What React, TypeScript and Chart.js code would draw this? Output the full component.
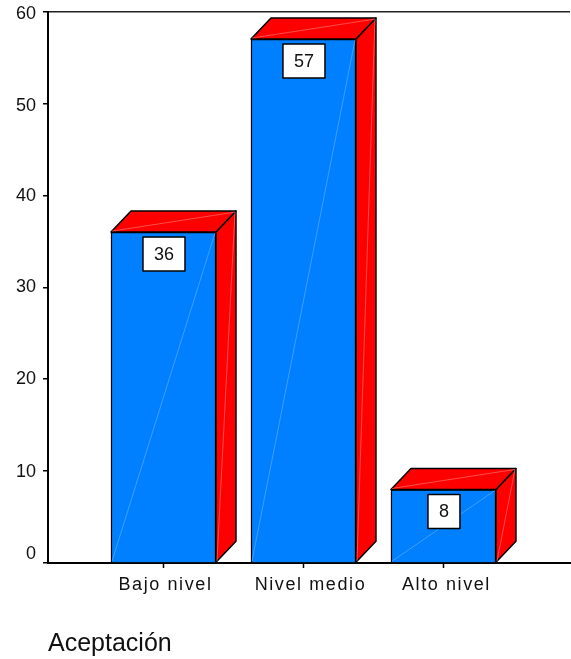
import { useEffect, useRef } from "react";
import { Chart, registerables } from "chart.js";

Chart.register(...registerables);

const categories = ["Bajo nivel", "Nivel medio", "Alto nivel"];
const values = [36, 57, 8];
const yTicks = [0, 10, 20, 30, 40, 50, 60];
const axisTitle = "Aceptación";

const FONT = "'Liberation Sans', Arial, sans-serif";
const DEPTH_X = 20;
const DEPTH_Y = 21;
const BLUE = "#0080ff";
const RED = "#ff0000";
// Label nudges: value axis from 0 up to 60, then the category labels.
const yLabelNudge = [-9, 1, 0, 0, 1, 3, 3];
const xLabelNudge = [2, 7, 3];

const face3d = {
  id: "face3d",
  afterLayout(chart: any) {
    const x = chart.scales.x;
    if (x.__spaced) return;
    x.__spaced = true;
    const draw = x.drawLabels;
    x.drawLabels = function (area: any) {
      chart.ctx.letterSpacing = "1.6px";
      draw.call(this, area);
      chart.ctx.letterSpacing = "0px";
    };
  },
  beforeDraw(chart: any) {
    const { x, y } = chart.scales;
    y.getLabelItems().forEach((item: any, i: number) => {
      item.options.translation[1] = y.getPixelForTick(i) + yLabelNudge[i];
    });
    x.getLabelItems().forEach((item: any, i: number) => {
      item.options.translation[0] = x.getPixelForTick(i) + xLabelNudge[i];
    });
  },
  afterDatasetsDraw(chart: any) {
    const { ctx } = chart;
    const meta = chart.getDatasetMeta(0);
    meta.data.forEach((bar: any, i: number) => {
      const left = bar.x - bar.width / 2;
      const right = bar.x + bar.width / 2;
      const top = bar.y;
      const bottom = bar.base;

      const poly = (pts: number[][]) => {
        ctx.beginPath();
        pts.forEach(([px, py], k) => (k ? ctx.lineTo(px, py) : ctx.moveTo(px, py)));
        ctx.closePath();
        ctx.fillStyle = RED;
        ctx.fill();
        ctx.strokeStyle = "#000";
        ctx.lineWidth = 1.5;
        ctx.lineJoin = "round";
        ctx.stroke();
      };
      const sheen = (x0: number, y0: number, x1: number, y1: number, color: string) => {
        ctx.beginPath();
        ctx.moveTo(x0, y0);
        ctx.lineTo(x1, y1);
        ctx.strokeStyle = color;
        ctx.lineWidth = 0.6;
        ctx.stroke();
      };

      ctx.save();
      poly([[right, top], [right + DEPTH_X, top - DEPTH_Y], [right + DEPTH_X, bottom - DEPTH_Y], [right, bottom]]);
      poly([[left, top], [left + DEPTH_X, top - DEPTH_Y], [right + DEPTH_X, top - DEPTH_Y], [right, top]]);
      sheen(left + 1, top - 1, right + DEPTH_X - 1, top - DEPTH_Y + 1, "#ff8080");
      sheen(right + 1, bottom - 1, right + DEPTH_X - 1, top - DEPTH_Y + 1, "#ff8080");
      sheen(left + 1, bottom - 1, right - 1, top + 1, "#66b3ff");

      // White value box hanging just under the front top edge.
      const text = String(values[i]);
      ctx.font = `18px ${FONT}`;
      const boxW = ctx.measureText(text).width + 22;
      const boxH = 34;
      const boxX = bar.x - boxW / 2 + 0.5;
      const boxY = top + 5;
      ctx.fillStyle = "#fff";
      ctx.fillRect(boxX, boxY, boxW, boxH);
      ctx.strokeStyle = "#000";
      ctx.lineWidth = 1.5;
      ctx.strokeRect(boxX, boxY, boxW, boxH);
      ctx.fillStyle = "#111";
      ctx.textAlign = "center";
      ctx.textBaseline = "middle";
      ctx.fillText(text, boxX + boxW / 2, boxY + boxH / 2 + 1);
      ctx.restore();
    });
  },
};

export default function App() {
  const ref = useRef<HTMLCanvasElement>(null);

  useEffect(() => {
    const chart = new Chart(ref.current!, {
      type: "bar",
      data: {
        datasets: [
          {
            data: values.map((v, i) => ({ x: i, y: v })),
            backgroundColor: BLUE,
            borderColor: "#000",
            borderWidth: 1.5,
            barThickness: 105,
          },
        ],
      },
      options: {
        animation: false,
        responsive: false,
        layout: { padding: { top: 11.5, right: 1, left: 0, bottom: 0 } },
        plugins: { legend: { display: false }, tooltip: { enabled: false } },
        scales: {
          x: {
            type: "linear",
            offset: false,
            min: -0.825,
            max: 2.904,
            afterBuildTicks: (s: any) => {
              s.ticks = categories.map((_, i) => ({ value: i }));
            },
            afterFit: (s: any) => {
              s.height = 96;
              s.paddingLeft = 0;
              s.paddingRight = 0;
            },
            border: { color: "#000", width: 2 },
            grid: { display: true, offset: false, drawOnChartArea: false, tickLength: 5, tickColor: "#000", tickWidth: 1.5 },
            ticks: {
              autoSkip: false,
              maxRotation: 0,
              padding: 6,
              color: "#111",
              font: { family: FONT, size: 18 },
              callback: (v: any) => categories[v] ?? "",
            },
            title: {
              display: true,
              text: axisTitle,
              align: "start",
              color: "#111",
              font: { family: FONT, size: 25 },
              padding: { top: 0, bottom: 0 },
            },
          },
          y: {
            min: yTicks[0],
            max: yTicks[yTicks.length - 1],
            afterBuildTicks: (s: any) => {
              s.ticks = yTicks.map((value) => ({ value }));
            },
            afterFit: (s: any) => {
              s.width = 48;
              s.paddingTop = 0;
              s.paddingBottom = 0;
            },
            border: { color: "#000", width: 2 },
            grid: {
              tickLength: 5,
              tickColor: "#000",
              tickWidth: 1.5,
              lineWidth: 1.5,
              color: (c: any) => (c.tick && c.tick.value === 60 ? "#222" : "transparent"),
            },
            ticks: {
              padding: 7,
              color: "#111",
              font: { family: FONT, size: 18 },
            },
          },
        },
      } as any,
      plugins: [face3d as any],
    });
    return () => chart.destroy();
  }, []);

  return (
    <canvas
      ref={ref}
      width={571}
      height={659}
      style={{ position: "absolute", left: 0, top: 0, width: 571, height: 659 }}
    />
  );
}
